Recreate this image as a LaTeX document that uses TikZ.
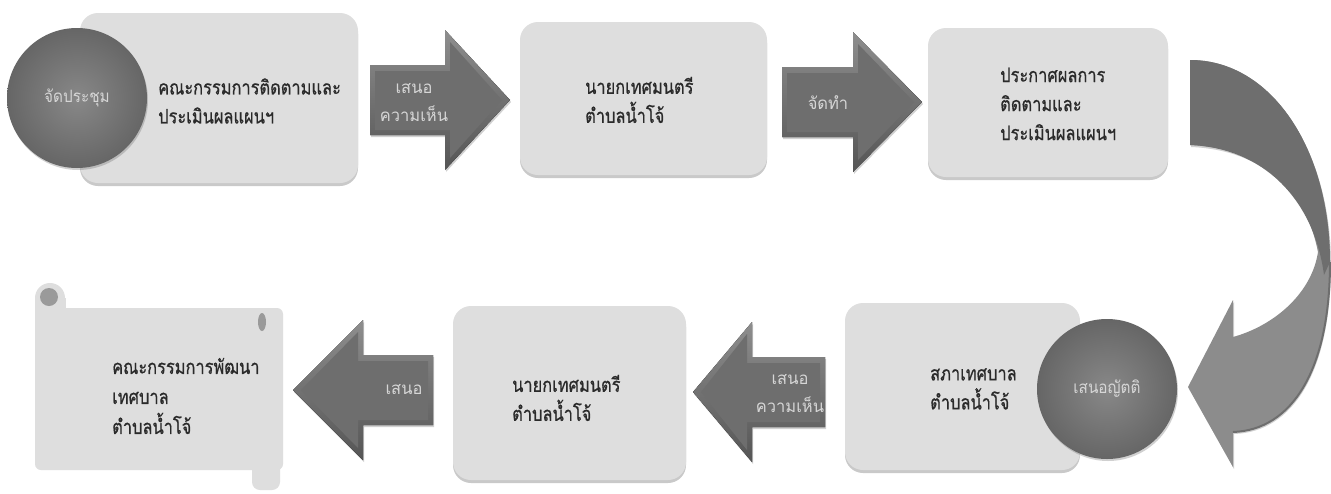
\documentclass[tikz,border=0pt]{standalone}
\usepackage{fontspec}
\newfontfamily\thaiarr[Script=Thai,FakeStretch=0.97]{Loma}
\newfontfamily\thaicirc[Script=Thai,FakeStretch=0.9]{Loma}
\newfontfamily\thaib[Script=Thai,FakeBold=0.6,FakeStretch=0.82]{Loma}
\usetikzlibrary{shadows}
\definecolor{boxgray}{HTML}{DEDEDE}
\definecolor{arrgray}{HTML}{6E6E6E}
\definecolor{arrtop}{HTML}{8E8E8E}
\definecolor{arrbot}{HTML}{555555}
\definecolor{arrlight}{HTML}{8C8C8C}
\definecolor{txtdark}{HTML}{2A2A2A}
\definecolor{txtlight}{HTML}{D6D6D6}
\definecolor{circin}{HTML}{888888}
\definecolor{circout}{HTML}{666666}
\definecolor{rolldark}{HTML}{9A9A9A}
% bevelled block arrow: tail x, head-back x, tip x, centre y, body half-height, head half-height, direction (1 or -1)
\newcommand\bevelarrow[7]{%
  \fill[top color=arrtop, bottom color=arrbot,
        drop shadow={shadow xshift=1pt, shadow yshift=-2pt, opacity=.3, fill=black!60}]
    (#1,{#4-#5}) -- (#2,{#4-#5}) -- (#2,{#4-#6}) -- (#3,#4) -- (#2,{#4+#6}) -- (#2,{#4+#5}) -- (#1,{#4+#5}) -- cycle;
  \fill[arrgray]
    ({#1+#7*5},{#4-#5+6}) -- ({#2+#7*5},{#4-#5+6}) -- ({#2+#7*5},{#4-#6+12}) -- ({#3-#7*8},#4)
    -- ({#2+#7*5},{#4+#6-12}) -- ({#2+#7*5},{#4+#5-5}) -- ({#1+#7*5},{#4+#5-5}) -- cycle;
}
\begin{document}
\begin{tikzpicture}[x=1pt,y=-1pt,
  box/.style={draw=none, fill=boxgray, rounded corners=18pt, inner sep=0pt,
    drop shadow={shadow xshift=0pt, shadow yshift=-3pt, opacity=.35, fill=black!60}},
  ball/.style={circle, inner sep=0pt, minimum size=140pt, inner color=circin, outer color=circout,
    text=txtlight, font=\thaicirc\fontsize{17}{22}\selectfont,
    drop shadow={shadow xshift=1pt, shadow yshift=-2pt, opacity=.3, fill=black!60}},
  boxtext/.style={anchor=west, align=left, text=txtdark, inner sep=0pt, font=\thaib\fontsize{20}{29}\selectfont},
  arrtext/.style={align=center, text=txtlight, inner sep=0pt, font=\thaiarr\fontsize{17}{28}\selectfont}
]
\useasboundingbox[fill=white] (0,0) rectangle (1331,493);

% ---------- top row ----------
\node[box, minimum width=278pt, minimum height=170pt] (b1) at (219,98) {};
\node[ball] (c1) at (77,98) {จัดประชุม};
\node[boxtext] (t1) at (158,101) {คณะกรรมการติดตามและ\\ประเมินผลแผนฯ};

\bevelarrow{370}{445}{510}{100}{35}{70}{1}
\node[arrtext] (a1) at (414,103) {เสนอ\\ความเห็น};

\node[box, minimum width=247pt, minimum height=153pt] (b2) at (643.5,98.5) {};
\node[boxtext] (t2) at (585,100) {นายกเทศมนตรี\\ตำบลน้ำโจ้};

\bevelarrow{782}{853}{922}{102}{35}{70}{1}
\node[arrtext] (a2) at (828,103) {จัดทำ};

\node[box, minimum width=240pt, minimum height=149pt] (b3) at (1048,102.5) {};
\node[boxtext] (t3) at (1000,104) {ประกาศผลการ\\ติดตามและ\\ประเมินผลแผนฯ};

% ---------- curved arrow ----------
\fill[arrlight, drop shadow={shadow xshift=1pt, shadow yshift=-2pt, opacity=.3, fill=black!60}]
  (1190,60) .. controls (1272,60) and (1330,150) .. (1330,262)
  .. controls (1330,370) and (1292,430) .. (1233,432)
  -- (1233,467) -- (1188,387) -- (1233,300) -- (1233,337)
  .. controls (1276,325) and (1312,292) .. (1318,252)
  .. controls (1306,190) and (1262,148) .. (1190,145) -- cycle;
\fill[arrgray]
  (1190,60) .. controls (1272,60) and (1330,150) .. (1330,262)
  -- (1324,275)
  .. controls (1314,200) and (1264,148) .. (1190,145) -- cycle;
\draw[arrgray, line width=2pt]
  (1330,262) .. controls (1330,370) and (1292,430) .. (1233,432);

% ---------- bottom row ----------
\node[box, minimum width=235pt, minimum height=167pt] (b4) at (962.5,386.5) {};
\node[boxtext] (t4) at (930,389) {สภาเทศบาล\\ตำบลน้ำโจ้};
\node[ball] (c2) at (1107,389) {เสนอญัตติ};

\bevelarrow{825}{752}{693}{392}{35}{70}{-1}
\node[arrtext] (a3) at (790,394) {เสนอ\\ความเห็น};

\node[box, minimum width=233pt, minimum height=174pt] (b5) at (569.5,393) {};
\node[boxtext] (t5) at (512,398) {นายกเทศมนตรี\\ตำบลน้ำโจ้};

\bevelarrow{433}{363}{293}{390}{35}{70}{-1}
\node[arrtext] (a4) at (404,390) {เสนอ};

% scroll
\begin{scope}[drop shadow={shadow xshift=0pt, shadow yshift=-3pt, opacity=.3, fill=black!60}]
\fill[boxgray, rounded corners=6pt] (35,308) rectangle (283,470);
\end{scope}
\fill[boxgray] (35,298) rectangle (66,330);
\fill[boxgray] (50,298) circle (15);
\fill[rolldark] (49,297) circle (9);
\fill[boxgray, rounded corners=8pt] (252,460) rectangle (280,490);
\fill[rolldark] (262,322) ellipse (4 and 9);
\node (b6) at (159,389) {};
\node[boxtext, font=\thaib\fontsize{20}{30}\selectfont] (t6) at (112,396) {คณะกรรมการพัฒนา\\เทศบาล\\ตำบลน้ำโจ้};
\end{tikzpicture}
\end{document}
